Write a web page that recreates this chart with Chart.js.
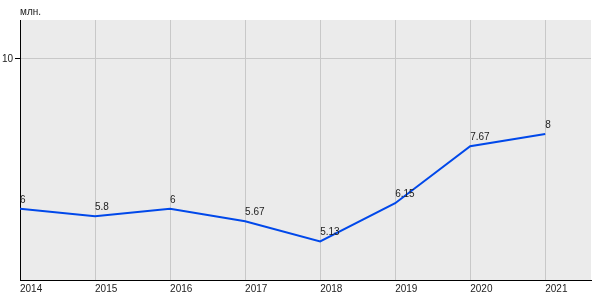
<!DOCTYPE html>
<html>
<head>
<meta charset="utf-8">
<script src="https://cdn.jsdelivr.net/npm/chart.js@4"></script>
<style>
html,body{margin:0;padding:0;background:#fff;}
#wrap{width:600px;height:300px;}
</style>
</head>
<body>
<div id="wrap"><canvas id="c" width="600" height="300"></canvas></div>
<script>
const years = [2014, 2015, 2016, 2017, 2018, 2019, 2020, 2021];
const values = [6, 5.8, 6, 5.67, 5.13, 6.15, 7.67, 8];
const valueLabels = ['6', '5.8', '6', '5.67', '5.13', '6.15', '7.67', '8'];
const yTicks = [10];
const unitLabel = 'млн.';

const FONT = "'Liberation Sans', Arial, sans-serif";

const bgPlugin = {
  id: 'bg',
  beforeDraw(chart) {
    const a = chart.chartArea, ctx = chart.ctx;
    ctx.save();
    ctx.fillStyle = '#ebebeb';
    ctx.fillRect(a.left, a.top, a.right - a.left, a.bottom - a.top);
    ctx.restore();
  },
  afterDraw(chart) {
    const ctx = chart.ctx;
    ctx.save();
    ctx.font = '10px ' + FONT;
    ctx.fillStyle = '#222';
    ctx.textAlign = 'left';
    ctx.textBaseline = 'alphabetic';
    ctx.fillText(unitLabel, 20, 15);
    ctx.restore();
  },
  afterDatasetsDraw(chart) {
    const ctx = chart.ctx;
    const meta = chart.getDatasetMeta(0);
    ctx.save();
    ctx.font = '10px ' + FONT;
    ctx.fillStyle = '#222';
    ctx.textAlign = 'left';
    ctx.textBaseline = 'alphabetic';
    meta.data.forEach((p, i) => {
      ctx.fillText(valueLabels[i], p.x, p.y - 6);
    });
    ctx.restore();
  }
};

new Chart(document.getElementById('c'), {
  type: 'line',
  data: {
    datasets: [{
      data: years.map((y, i) => ({x: y, y: values[i]})),
      borderColor: '#0048ea',
      borderWidth: 2,
      pointRadius: 0,
      tension: 0,
      fill: false
    }]
  },
  options: {
    responsive: false,
    animation: false,
    devicePixelRatio: 1,
    layout: {padding: {top: 20, right: 9, left: 0, bottom: 0}},
    plugins: {legend: {display: false}, tooltip: {enabled: false}},
    scales: {
      x: {
        type: 'linear',
        min: 2014,
        max: 2021.61,
        afterBuildTicks: s => { s.ticks = years.map(v => ({value: v})); },
        afterFit: s => { s.height = 20; },
        ticks: {
          callback: v => String(v),
          align: 'start',
          maxRotation: 0,
          autoSkip: false,
          padding: 3,
          color: '#222',
          font: {family: FONT, size: 10}
        },
        grid: {color: '#c8c8c8', drawTicks: false, lineWidth: 1},
        border: {color: '#000', width: 1}
      },
      y: {
        type: 'linear',
        min: 4.1,
        max: 11.04,
        afterBuildTicks: s => { s.ticks = yTicks.map(v => ({value: v})); },
        afterFit: s => { s.width = 20; },
        ticks: {
          callback: v => String(v),
          padding: 2,
          color: '#222',
          font: {family: FONT, size: 10}
        },
        grid: {color: '#c8c8c8', drawTicks: true, tickLength: 5, tickColor: '#000', lineWidth: 1},
        border: {color: '#000', width: 1}
      }
    }
  },
  plugins: [bgPlugin]
});
</script>
</body>
</html>
